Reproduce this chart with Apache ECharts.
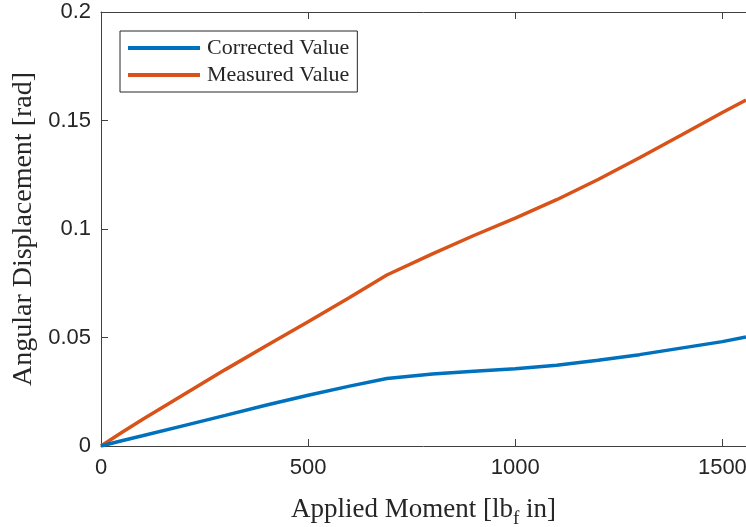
<!DOCTYPE html>
<html>
<head>
<meta charset="utf-8">
<script src="https://cdn.jsdelivr.net/npm/echarts@6/dist/echarts.min.js"></script>
<style>
  html, body { margin: 0; padding: 0; background: #fff; }
  #chart { width: 746px; height: 527px; }
</style>
</head>
<body>
<div id="chart"></div>
<script>
// Applied moment [lbf in]
const moment = [0, 50, 100, 200, 300, 400, 500, 600, 690, 800, 900, 1000, 1100, 1200, 1300, 1400, 1500, 1557];
// Angular displacement [rad]
const correctedValue = [0, 0.0024, 0.0047, 0.0094, 0.0141, 0.0189, 0.0234, 0.0276, 0.0311, 0.0332, 0.0344, 0.0356, 0.0372, 0.0395, 0.0421, 0.0451, 0.0481, 0.0502];
const measuredValue  = [0, 0.0062, 0.0122, 0.0237, 0.0352, 0.0463, 0.0573, 0.0684, 0.0788, 0.0885, 0.0970, 0.1050, 0.1135, 0.1228, 0.1328, 0.1432, 0.1537, 0.1594];
const seriesNames = ['Corrected Value', 'Measured Value'];
const xTicks = [0, 500, 1000, 1500];
const yTicks = [0, 0.05, 0.1, 0.15, 0.2];

const axisColor = '#404040';
const textColor = '#262626';
const sansFont = '"Liberation Sans", Arial, sans-serif';
const serifFont = '"Liberation Serif", "Times New Roman", serif';

function pairs(xs, ys) { return xs.map((x, i) => [x, ys[i]]); }

const chart = echarts.init(document.getElementById('chart'), null, { renderer: 'canvas' });

const xCommon = {
  type: 'value',
  min: 0,
  max: moment[moment.length - 1],
  interval: xTicks[1] - xTicks[0],
  splitLine: { show: false },
  axisLine: { show: true, onZero: false, lineStyle: { color: axisColor, width: 1 } },
  axisTick: { show: true, inside: true, length: 7, lineStyle: { color: axisColor } }
};

chart.setOption({
  animation: false,
  backgroundColor: '#ffffff',
  grid: { left: 101, top: 12, right: 0, bottom: 81, containLabel: false, outerBoundsMode: 'none' },
  legend: {
    data: seriesNames,
    orient: 'vertical',
    left: 120,
    top: 31,
    icon: 'rect',
    itemWidth: 72,
    itemHeight: 4,
    itemGap: 5,
    padding: [6, 8, 6, 8],
    borderColor: textColor,
    borderWidth: 1,
    backgroundColor: '#ffffff',
    textStyle: { fontFamily: serifFont, fontSize: 22, color: textColor, lineHeight: 20, padding: [0, 0, 0, 2] }
  },
  xAxis: [
    Object.assign({}, xCommon, {
      position: 'bottom',
      name: 'Applied Moment [lb{sub|f} in]',
      nameLocation: 'middle',
      nameGap: 44,
      nameTextStyle: {
        fontFamily: serifFont, fontSize: 27, color: textColor,
        rich: { sub: { fontFamily: serifFont, fontSize: 19, color: textColor, padding: [20, 0, 0, 0] } }
      },
      axisLabel: {
        show: true, margin: 11, fontFamily: sansFont, fontSize: 22, color: textColor,
        formatter: v => xTicks.includes(v) ? String(v) : ''
      }
    }),
    Object.assign({}, xCommon, {
      position: 'top',
      axisLabel: { show: false }
    })
  ],
  yAxis: {
    type: 'value',
    min: yTicks[0],
    max: yTicks[yTicks.length - 1],
    interval: yTicks[1] - yTicks[0],
    splitLine: { show: false },
    axisLine: { show: true, onZero: false, lineStyle: { color: axisColor, width: 1 } },
    axisTick: { show: true, inside: true, length: 7, lineStyle: { color: axisColor } },
    axisLabel: {
      margin: 10, fontFamily: sansFont, fontSize: 22, color: textColor,
      formatter: v => String(parseFloat(v.toFixed(3)))
    },
    name: 'Angular Displacement [rad]',
    nameLocation: 'middle',
    nameGap: 61,
    nameTextStyle: { fontFamily: serifFont, fontSize: 28, color: textColor }
  },
  series: [
    {
      name: seriesNames[0],
      type: 'line',
      data: pairs(moment, correctedValue),
      showSymbol: false,
      symbol: 'none',
      lineStyle: { color: '#0072BD', width: 3.5 },
      itemStyle: { color: '#0072BD' },
      z: 3
    },
    {
      name: seriesNames[1],
      type: 'line',
      data: pairs(moment, measuredValue),
      showSymbol: false,
      symbol: 'none',
      lineStyle: { color: '#D95319', width: 3.5 },
      itemStyle: { color: '#D95319' },
      z: 2
    }
  ]
});
</script>
</body>
</html>
